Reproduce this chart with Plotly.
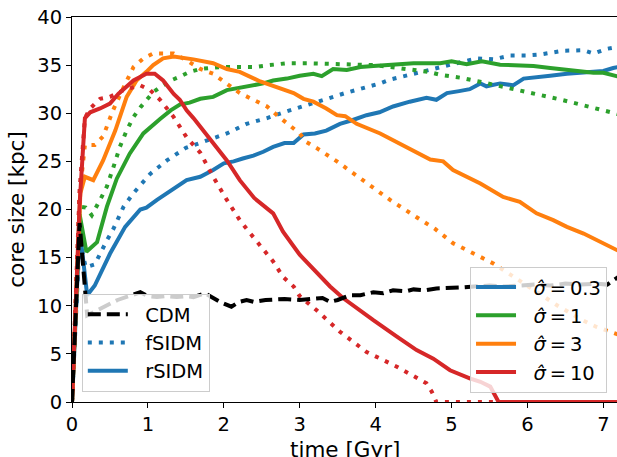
import plotly.graph_objects as go

BLUE = "#1f77b4"
GREEN = "#2ca02c"
ORANGE = "#ff7f0e"
RED = "#d62728"

# ---------------- data ----------------
t_cdm = [0, 0.1, 0.2, 0.35, 0.5, 0.6, 0.75, 0.9, 1.0, 1.12, 1.25, 1.38, 1.5, 1.6, 1.75, 1.95,
         2.1, 2.2, 2.3, 2.4, 2.55, 2.8, 3.0, 3.15, 3.3, 3.4, 3.5, 3.66, 3.8, 3.97, 4.1, 4.23,
         4.4, 4.5, 4.65, 4.8, 5.0, 5.13, 5.3, 5.5, 5.7, 5.9, 6.1, 6.3, 6.5, 6.7, 6.9, 7.05,
         7.13, 7.2]
v_cdm = [0, 18.6, 9.0, 9.6, 10.3, 10.6, 11.0, 11.4, 11.0, 10.9, 11.0, 10.9, 11.0, 10.9, 11.3, 10.4,
         9.9, 10.4, 10.6, 10.4, 10.6, 10.7, 10.6, 10.7, 10.8, 10.4, 10.6, 11.1, 11.1, 11.4, 11.3, 11.6,
         11.5, 11.7, 11.6, 11.8, 11.8, 11.9, 12.0, 12.1, 12.0, 12.1, 12.2, 12.1, 12.3, 12.2, 12.3, 12.2,
         12.6, 13.0]

# sigma = 0.3
t_f03 = [0, 0.1, 0.18, 0.3, 0.46, 0.54, 0.68, 0.81, 1.03, 1.25, 1.5, 1.77, 2.04, 2.3, 2.57, 2.83,
         3.09, 3.36, 3.6, 3.8, 4.06, 4.19, 4.5, 4.7, 4.89, 5.1, 5.33, 5.55, 5.77, 6.0, 6.17, 6.47,
         6.74, 6.87, 7.05, 7.2]
v_f03 = [0, 17.0, 14.0, 14.3, 16.8, 17.9, 20.3, 21.7, 23.7, 25.1, 26.4, 27.2, 27.9, 28.9, 29.5, 30.2,
         30.8, 31.5, 32.1, 32.5, 33.1, 33.5, 34.1, 34.5, 34.8, 35.3, 35.7, 35.6, 36.0, 36.0, 36.1, 36.5,
         36.55, 36.2, 36.7, 36.9]
t_r03 = [0, 0.1, 0.2, 0.3, 0.5, 0.7, 0.9, 0.98, 1.12, 1.25, 1.4, 1.51, 1.69, 1.86, 2.0, 2.13, 2.25,
         2.39, 2.52, 2.65, 2.8, 2.92, 3.05, 3.2, 3.35, 3.53, 3.7, 3.88, 4.05, 4.23, 4.45, 4.67, 4.8,
         4.94, 5.1, 5.24, 5.38, 5.46, 5.64, 5.81, 5.95, 6.17, 6.3, 6.52, 6.7, 6.91, 7.0, 7.13, 7.2]
v_r03 = [0, 18.0, 11.1, 12.1, 15.4, 18.2, 20.0, 20.2, 21.0, 21.7, 22.5, 23.05, 23.4, 24.1, 24.8, 25.0, 25.3,
         25.6, 26.0, 26.5, 26.9, 26.9, 27.8, 27.9, 28.2, 28.9, 29.3, 29.8, 30.1, 30.7, 31.2, 31.6, 31.4,
         32.1, 32.3, 32.5, 33.1, 32.8, 33.1, 32.9, 33.6, 33.85, 33.9, 34.1, 34.2, 34.3, 34.4, 34.7, 34.8]

# sigma = 1
t_f1 = [0, 0.1, 0.18, 0.26, 0.37, 0.46, 0.55, 0.63, 0.72, 0.81, 0.9, 0.98, 1.07, 1.16, 1.3, 1.42,
        1.55, 1.69, 1.95, 2.2, 2.4, 2.6, 2.83, 3.1, 3.4, 3.7, 3.97, 4.2, 4.4, 4.54, 4.7, 4.85, 5.11,
        5.42, 5.6, 5.81, 6.05, 6.25, 6.45, 6.65, 6.9, 7.09, 7.2]
v_f1 = [0, 20.3, 20.2, 19.4, 21.0, 22.4, 24.5, 26.5, 28.2, 29.6, 30.6, 31.4, 32.2, 32.7, 33.4, 33.8,
        34.3, 34.6, 34.8, 34.8, 34.8, 35.0, 35.2, 35.2, 35.1, 35.1, 35.0, 34.8, 34.6, 34.5, 34.3, 34.0, 33.7,
        33.2, 32.9, 32.5, 32.1, 31.8, 31.4, 31.0, 30.5, 30.1, 29.9]
t_r1 = [0, 0.1, 0.19, 0.33, 0.46, 0.59, 0.76, 0.94, 1.16, 1.3, 1.42, 1.55, 1.69, 1.86, 2.04, 2.2,
        2.39, 2.52, 2.65, 2.83, 3.0, 3.18, 3.29, 3.44, 3.62, 3.8, 3.97, 4.2, 4.5, 4.85, 5.0, 5.2, 5.4,
        5.64, 5.85, 6.08, 6.3, 6.43, 6.6, 6.87, 7.0, 7.2]
v_r1 = [0, 19.5, 15.6, 16.6, 20.3, 23.2, 25.8, 27.9, 29.4, 30.3, 30.9, 31.1, 31.5, 31.7, 32.4, 32.6,
        32.9, 33.1, 33.4, 33.6, 33.9, 34.1, 33.85, 34.6, 34.5, 34.8, 34.9, 35.0, 35.2, 35.2, 35.4, 35.1, 35.4,
        35.05, 35.0, 34.9, 34.7, 34.6, 34.4, 34.2, 34.2, 33.8]

# sigma = 3
t_f3 = [0, 0.1, 0.17, 0.3, 0.41, 0.54, 0.68, 0.81, 0.94, 1.07, 1.2, 1.34, 1.51, 1.69, 1.86, 2.04,
        2.21, 2.39, 2.57, 2.7, 2.83, 3.0, 3.09, 3.22, 3.49, 3.84, 4.19, 4.54, 4.78, 5.02, 5.29, 5.55,
        5.8, 6.1, 6.4, 6.7, 6.91, 7.2]
v_f3 = [0, 21.5, 26.7, 26.7, 27.6, 30.3, 32.7, 34.8, 35.7, 36.2, 36.2, 36.2, 35.5, 34.6, 34.1, 33.1,
        32.1, 31.4, 30.7, 29.8, 29.0, 27.9, 27.0, 26.4, 25.0, 23.05, 21.0, 19.2, 18.0, 16.5, 15.4, 14.4,
        13.1, 11.5, 10.0, 8.6, 7.8, 7.0]
t_r3 = [0, 0.11, 0.17, 0.28, 0.41, 0.57, 0.72, 0.85, 0.98, 1.07, 1.2, 1.34, 1.6, 1.86, 2.04, 2.21,
        2.48, 2.74, 2.92, 3.05, 3.18, 3.35, 3.49, 3.6, 3.75, 4.06, 4.41, 4.72, 4.89, 5.02, 5.38, 5.68,
        5.9, 6.12, 6.34, 6.52, 6.74, 6.96, 7.2]
v_r3 = [0, 21.7, 23.4, 23.05, 25.1, 28.2, 31.7, 33.4, 34.3, 35.0, 35.7, 35.9, 35.6, 35.2, 34.6, 34.3,
        33.3, 32.6, 32.1, 31.5, 31.2, 30.5, 29.8, 29.7, 28.9, 27.9, 26.5, 25.2, 25.0, 24.1, 22.7, 21.3,
        20.8, 19.6, 18.9, 18.2, 17.5, 16.6, 15.7]

# sigma = 10
t_f10 = [0, 0.1, 0.17, 0.24, 0.37, 0.5, 0.68, 0.9, 1.03, 1.16, 1.34, 1.51, 1.69, 1.86, 2.04, 2.21,
         2.35, 2.57, 2.65, 2.78, 2.92, 3.0, 3.22, 3.53, 3.88, 4.28, 4.54, 4.67, 4.74, 4.78, 4.8, 5.5,
         6.5, 7.2]
v_f10 = [0, 22.0, 29.5, 30.5, 31.5, 31.7, 32.4, 32.9, 32.4, 31.4, 29.6, 27.5, 25.9, 23.4, 21.0, 18.9,
         17.5, 15.4, 14.6, 13.0, 12.0, 11.0, 9.55, 7.3, 5.2, 3.67, 2.46, 1.94, 1.07, 0.2, 0, 0,
         0, 0]
t_r10 = [0, 0.1, 0.17, 0.24, 0.37, 0.5, 0.61, 0.81, 0.98, 1.09, 1.2, 1.34, 1.42, 1.51, 1.6, 1.69,
         1.86, 2.04, 2.21, 2.4, 2.65, 2.78, 3.0, 3.22, 3.4, 3.57, 3.77, 3.97, 4.28, 4.54, 4.76, 4.98,
         5.24, 5.38, 5.51, 5.6, 5.62, 6.5, 7.2]
v_r10 = [0, 20.5, 29.5, 30.1, 30.5, 31.0, 32.0, 33.4, 34.1, 34.1, 33.4, 32.0, 31.4, 30.3, 29.5, 28.6,
         26.9, 25.1, 23.05, 21.2, 19.6, 17.7, 15.3, 13.4, 12.0, 10.8, 9.6, 8.5, 6.8, 5.4, 4.5, 3.3,
         2.46, 2.1, 1.6, 0.2, 0, 0, 0]

x_ticks = [0, 1, 2, 3, 4, 5, 6, 7]
y_ticks = [0, 5, 10, 15, 20, 25, 30, 35, 40]

x_title = "time [Gyr]"
y_title = "core size [kpc]"
model_labels = ["CDM", "fSIDM", "rSIDM"]
sigma_labels = ["0.3", "1", "3", "10"]
sigma_colors = [BLUE, GREEN, ORANGE, RED]
series = [
    (t_f03, v_f03, t_r03, v_r03),
    (t_f1, v_f1, t_r1, v_r1),
    (t_f3, v_f3, t_r3, v_r3),
    (t_f10, v_f10, t_r10, v_r10),
]

# ---------------- figure ----------------
FONT = "DejaVu Sans"
LW = 4
DOT = "4px,7px"
DASH = "13px,6px"
PAD = "\u00a0\u00a0"

fig = go.Figure()

for (tf, vf, tr, vr), col in zip(series, sigma_colors):
    fig.add_trace(go.Scatter(x=tf, y=vf, mode="lines", showlegend=False, hoverinfo="skip",
                             line=dict(color=col, width=LW, dash=DOT)))
    fig.add_trace(go.Scatter(x=tr, y=vr, mode="lines", showlegend=False, hoverinfo="skip",
                             line=dict(color=col, width=LW)))

fig.add_trace(go.Scatter(x=t_cdm, y=v_cdm, mode="lines", showlegend=False, hoverinfo="skip",
                         line=dict(color="black", width=LW, dash=DASH)))

# legend 1 : model types
for name, col, dash in zip(model_labels, ["black", BLUE, BLUE], [DASH, DOT, "solid"]):
    fig.add_trace(go.Scatter(x=[None], y=[None], mode="lines", name=PAD + name, legend="legend",
                             line=dict(color=col, width=LW, dash=dash)))

# legend 2 : cross sections
for lab, col in zip(sigma_labels, sigma_colors):
    fig.add_trace(go.Scatter(x=[None], y=[None], mode="lines",
                             name=PAD + "<i>σ̂</i>\u2009=\u2009" + lab, legend="legend2",
                             line=dict(color=col, width=LW)))

legend_common = dict(bgcolor="rgba(255,255,255,0.8)", bordercolor="#cccccc", borderwidth=1,
                     font=dict(family=FONT, size=19.5, color="black"), itemwidth=40,
                     tracegroupgap=0, yanchor="bottom")

fig.update_layout(
    width=617, height=457,
    margin=dict(l=72, r=0, t=17, b=55),
    paper_bgcolor="white", plot_bgcolor="white",
    font=dict(family=FONT, color="black"),
    xaxis=dict(range=[0, 7.18], tickvals=x_ticks, showline=True, linecolor="black", linewidth=1,
               mirror=True, ticks="outside", ticklen=5, tickwidth=1, tickcolor="black",
               showgrid=False, zeroline=False, tickfont=dict(size=19.5), automargin=False),
    yaxis=dict(range=[0, 40], tickvals=y_ticks, showline=True, linecolor="black", linewidth=1,
               mirror=False, ticks="outside", ticklen=5, tickwidth=1, tickcolor="black",
               showgrid=False, zeroline=False, tickfont=dict(size=19.5), automargin=False,
               title=dict(text=y_title, font=dict(size=21.5), standoff=6)),
    legend=dict(x=0.018, y=0.026, xanchor="left", **legend_common),
    legend2=dict(x=0.9817, y=0.024, xanchor="right", **legend_common),
    annotations=[dict(text=x_title, xref="paper", yref="paper", x=0.5, y=-0.123,
                      xanchor="center", yanchor="middle", showarrow=False,
                      font=dict(family=FONT, size=21.5, color="black"))],
)

fig.write_html("out.html", config={"displayModeBar": False},
               post_script="document.body.style.margin='0';")
